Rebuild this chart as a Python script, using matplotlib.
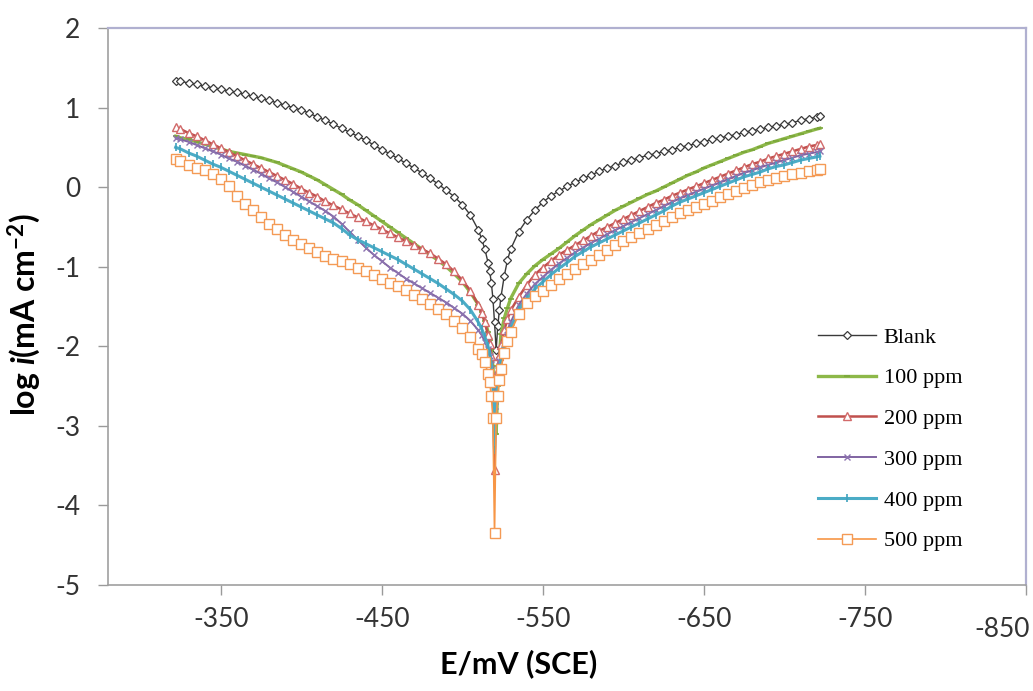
import matplotlib
matplotlib.use('Agg')
import matplotlib.pyplot as plt
import matplotlib.transforms as mtrans

# ---------------- data ----------------
E = [-322, -325, -330, -335, -340, -345, -350, -355, -360, -365, -370, -375, -380,
     -385, -390, -395, -400, -405, -410, -415, -420, -425, -430, -435, -440, -445,
     -450, -455, -460, -465, -470, -475, -480, -485, -490, -495, -500, -505, -510,
     -512, -514, -516, -517, -518, -519, -520, -521, -522, -523, -524, -526, -528,
     -530, -535, -540, -545, -550, -555, -560, -565, -570, -575, -580, -585, -590,
     -595, -600, -605, -610, -615, -620, -625, -630, -635, -640, -645, -650, -655,
     -660, -665, -670, -675, -680, -685, -690, -695, -700, -705, -710, -715, -720, -722]

blank = [1.34, 1.33, 1.31, 1.29, 1.27, 1.25, 1.23, 1.21, 1.19, 1.165, 1.14, 1.115, 1.09,
         1.06, 1.03, 1.00, 0.97, 0.93, 0.88, 0.84, 0.79, 0.74, 0.69, 0.64, 0.59, 0.53,
         0.47, 0.42, 0.36, 0.30, 0.24, 0.18, 0.11, 0.04, -0.04, -0.12, -0.22, -0.35, -0.54,
         -0.65, -0.78, -0.95, -1.06, -1.20, -1.40, -1.70, -2.05, -1.75, -1.55, -1.38, -1.12, -0.92,
         -0.78, -0.56, -0.41, -0.29, -0.19, -0.11, -0.05, 0.01, 0.06, 0.11, 0.15, 0.20, 0.24,
         0.27, 0.31, 0.34, 0.37, 0.40, 0.42, 0.45, 0.47, 0.50, 0.52, 0.55, 0.57, 0.60,
         0.62, 0.64, 0.66, 0.69, 0.71, 0.73, 0.75, 0.77, 0.79, 0.81, 0.84, 0.86, 0.88, 0.89]

ppm100 = [0.64, 0.62, 0.60, 0.57, 0.54, 0.51, 0.48, 0.45, 0.43, 0.41, 0.39, 0.37, 0.34,
          0.31, 0.27, 0.23, 0.19, 0.14, 0.09, 0.03, -0.03, -0.09, -0.16, -0.22, -0.29, -0.36,
          -0.43, -0.50, -0.57, -0.64, -0.71, -0.78, -0.85, -0.92, -1.00, -1.09, -1.19, -1.32, -1.48,
          -1.57, -1.68, -1.82, -1.92, -2.05, -2.25, -2.60, -3.10, -2.50, -2.15, -1.85, -1.65, -1.52,
          -1.40, -1.21, -1.09, -0.99, -0.91, -0.84, -0.77, -0.69, -0.61, -0.54, -0.47, -0.41, -0.35,
          -0.29, -0.24, -0.19, -0.14, -0.09, -0.05, 0.00, 0.05, 0.10, 0.15, 0.19, 0.24, 0.28,
          0.32, 0.36, 0.40, 0.44, 0.47, 0.51, 0.55, 0.58, 0.61, 0.64, 0.67, 0.70, 0.73, 0.74]

ppm200 = [0.75, 0.73, 0.68, 0.64, 0.59, 0.54, 0.49, 0.44, 0.39, 0.34, 0.29, 0.24, 0.19,
          0.14, 0.09, 0.04, -0.02, -0.07, -0.12, -0.18, -0.23, -0.28, -0.33, -0.38, -0.43, -0.48,
          -0.53, -0.58, -0.63, -0.68, -0.73, -0.78, -0.83, -0.90, -0.97, -1.06, -1.17, -1.30, -1.48,
          -1.58, -1.70, -1.86, -1.97, -2.12, -2.40, -3.55, -2.60, -2.30, -2.12, -1.99, -1.80, -1.66,
          -1.55, -1.38, -1.23, -1.10, -1.01, -0.93, -0.85, -0.79, -0.73, -0.67, -0.61, -0.55, -0.50,
          -0.45, -0.40, -0.35, -0.30, -0.25, -0.20, -0.16, -0.11, -0.07, -0.03, 0.01, 0.05, 0.09,
          0.13, 0.17, 0.21, 0.25, 0.29, 0.32, 0.36, 0.39, 0.42, 0.45, 0.48, 0.51, 0.53, 0.54]

ppm300 = [0.62, 0.60, 0.57, 0.53, 0.49, 0.45, 0.41, 0.36, 0.32, 0.27, 0.22, 0.17, 0.11,
          0.06, 0.00, -0.06, -0.12, -0.18, -0.24, -0.30, -0.37, -0.46, -0.56, -0.66, -0.76, -0.85,
          -0.93, -1.01, -1.08, -1.15, -1.21, -1.27, -1.33, -1.39, -1.45, -1.52, -1.59, -1.68, -1.80,
          -1.86, -1.94, -2.04, -2.12, -2.22, -2.40, -2.75, -2.45, -2.30, -2.18, -2.08, -1.92, -1.80,
          -1.70, -1.48, -1.34, -1.22, -1.13, -1.04, -0.96, -0.89, -0.82, -0.76, -0.70, -0.65, -0.59,
          -0.54, -0.49, -0.44, -0.39, -0.34, -0.29, -0.24, -0.19, -0.14, -0.10, -0.06, -0.02, 0.02,
          0.06, 0.10, 0.14, 0.18, 0.21, 0.25, 0.28, 0.31, 0.34, 0.37, 0.40, 0.42, 0.44, 0.45]

ppm400 = [0.50, 0.48, 0.43, 0.39, 0.34, 0.29, 0.25, 0.20, 0.15, 0.10, 0.05, 0.00, -0.05,
          -0.10, -0.15, -0.20, -0.25, -0.30, -0.35, -0.40, -0.45, -0.52, -0.60, -0.66, -0.71, -0.76,
          -0.81, -0.86, -0.91, -0.97, -1.03, -1.09, -1.15, -1.21, -1.28, -1.35, -1.43, -1.54, -1.70,
          -1.78, -1.88, -2.00, -2.09, -2.22, -2.50, -3.30, -2.65, -2.42, -2.28, -2.17, -2.00, -1.88,
          -1.78, -1.54, -1.40, -1.28, -1.19, -1.10, -1.02, -0.95, -0.87, -0.81, -0.75, -0.70, -0.65,
          -0.60, -0.55, -0.50, -0.45, -0.40, -0.35, -0.30, -0.24, -0.19, -0.15, -0.11, -0.07, -0.03,
          0.01, 0.05, 0.09, 0.13, 0.16, 0.19, 0.23, 0.26, 0.28, 0.31, 0.34, 0.36, 0.38, 0.39]

ppm500 = [0.35, 0.33, 0.28, 0.24, 0.21, 0.17, 0.10, 0.01, -0.11, -0.21, -0.29, -0.38, -0.46,
          -0.53, -0.60, -0.66, -0.72, -0.77, -0.82, -0.86, -0.90, -0.93, -0.97, -1.01, -1.06, -1.10,
          -1.15, -1.20, -1.24, -1.29, -1.35, -1.41, -1.47, -1.53, -1.60, -1.68, -1.77, -1.88, -2.03,
          -2.10, -2.20, -2.35, -2.45, -2.62, -2.90, -4.35, -2.90, -2.62, -2.42, -2.28, -2.08, -1.93,
          -1.82, -1.60, -1.46, -1.37, -1.30, -1.23, -1.16, -1.09, -1.03, -0.97, -0.91, -0.85, -0.79,
          -0.73, -0.68, -0.63, -0.58, -0.53, -0.48, -0.43, -0.38, -0.33, -0.29, -0.25, -0.21, -0.17,
          -0.13, -0.09, -0.05, -0.01, 0.03, 0.06, 0.09, 0.12, 0.14, 0.16, 0.18, 0.20, 0.22, 0.23]

labels = ['Blank', '100 ppm', '200 ppm', '300 ppm', '400 ppm', '500 ppm']
x_ticks = [-350, -450, -550, -650, -750, -850]
y_ticks = [-5, -4, -3, -2, -1, 0, 1, 2]

# ---------------- styling ----------------
plt.rcParams['mathtext.fontset'] = 'custom'
plt.rcParams['mathtext.rm'] = 'Lato:bold'
plt.rcParams['mathtext.it'] = 'Lato:italic:bold'
plt.rcParams['mathtext.bf'] = 'Lato:bold'

fig = plt.figure(figsize=(10.33, 6.91), dpi=100)
ax = fig.add_axes([108 / 1033, 1 - 585 / 691, 918 / 1033, 557 / 691])

styles = [
    dict(color='#3a3a3a', lw=1.0, marker='D', ms=4.5, mfc='white', mec='#3a3a3a', mew=0.9),
    dict(color='#8DB849', lw=2.4, marker='_', ms=5, mec='#7AA63A', mew=1.2),
    dict(color='#C0504D', lw=1.8, marker='^', ms=5.8, mfc='white', mec='#D26A6A', mew=1.0),
    dict(color='#8064A2', lw=1.4, marker='x', ms=4.5, mec='#8D74B0', mew=1.0),
    dict(color='#4BACC6', lw=2.2, marker='|', ms=6, mec='#3FA2BE', mew=1.2),
    dict(color='#F79646', lw=1.2, marker='s', ms=6.8, mfc='white', mec='#F49A55', mew=1.0),
]
series = [blank, ppm100, ppm200, ppm300, ppm400, ppm500]
for ys, lab, st in zip(series, labels, styles):
    ax.plot(E, ys, label=lab, **st)

ax.set_xlim(-280, -850)
ax.set_ylim(-5, 2)
ax.set_xticks(x_ticks)
ax.set_yticks(y_ticks)
ax.set_xticklabels([str(v) for v in x_ticks])
ax.set_yticklabels([str(v) for v in y_ticks])

tick_color = '#333333'
ax.tick_params(axis='both', direction='out', length=7, width=1.0, color='#9a9a9a',
               labelsize=19, labelcolor=tick_color)
ax.tick_params(axis='x', pad=9)
ax.tick_params(axis='y', pad=13)
for lbl in ax.get_xticklabels() + ax.get_yticklabels():
    lbl.set_fontfamily('Lato')

# shift the last x tick label like the reference
last = ax.get_xticklabels()[-1]
last.set_transform(last.get_transform() + mtrans.ScaledTranslation(-24 / 100, -10 / 100, fig.dpi_scale_trans))

for side in ['left', 'bottom']:
    ax.spines[side].set_color('#a0a0a0')
    ax.spines[side].set_linewidth(1.2)
for side in ['top', 'right']:
    ax.spines[side].set_color('#b0b0d0')
    ax.spines[side].set_linewidth(1.6)

ax.set_xlabel('E/mV (SCE)', fontsize=22, fontweight='bold', family='Lato')
ax.xaxis.set_label_coords((519 - 108) / 918, -0.115)
ax.set_ylabel(r'log $\mathit{i}$(mA cm$^{-2}$)', fontsize=23, fontweight='bold', family='Lato')
ax.yaxis.set_label_coords(-0.071, 0.485)

leg = ax.legend(loc='upper left', bbox_to_anchor=(818 / 1033, 1 - 327 / 691),
                bbox_transform=fig.transFigure, frameon=False, numpoints=1,
                prop={'family': 'Liberation Serif', 'size': 16},
                handlelength=2.6, handletextpad=0.35, labelspacing=0.91, borderpad=0,
                borderaxespad=0)

fig.savefig('out.png', dpi=100)
